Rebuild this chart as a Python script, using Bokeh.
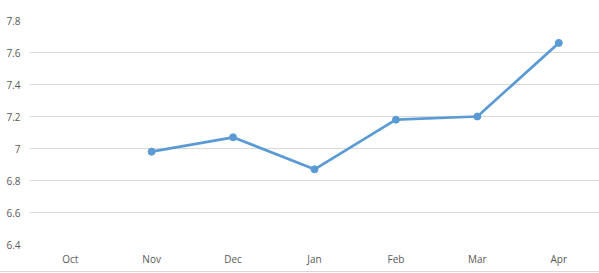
from bokeh.plotting import figure
from bokeh.models import FixedTicker
from bokeh.embed import file_html
from bokeh.resources import INLINE

months = ["Oct", "Nov", "Dec", "Jan", "Feb", "Mar", "Apr"]
values = [float("nan"), 6.98, 7.07, 6.87, 7.18, 7.20, 7.66]
y_ticks = [6.4, 6.6, 6.8, 7.0, 7.2, 7.4, 7.6, 7.8]
y_labels = {6.4: "6.4", 6.6: "6.6", 6.8: "6.8", 7.0: "7", 7.2: "7.2", 7.4: "7.4", 7.6: "7.6", 7.8: "7.8"}

p = figure(x_range=months, y_range=(6.4, 7.8), width=599, height=272,
           output_backend="svg", toolbar_location=None,
           min_border_left=29, min_border_right=0, min_border_top=20, min_border_bottom=28)
p.outline_line_color = None
p.background_fill_color = "white"
p.border_fill_color = "white"
p.styles = {"border-bottom": "1px solid #d9d9d9"}

p.line(months, values, line_color="#5B9BD5", line_width=2.75)
p.scatter(months, values, size=7, color="#5B9BD5")

p.xgrid.grid_line_color = None
p.ygrid.grid_line_color = "#d9d9d9"
p.ygrid.grid_line_width = 1

p.yaxis.ticker = FixedTicker(ticks=y_ticks)
p.yaxis.major_label_overrides = y_labels
for ax in (p.xaxis[0], p.yaxis[0]):
    ax.axis_line_color = None
    ax.major_tick_line_color = None
    ax.minor_tick_line_color = None
    ax.major_tick_out = 0
    ax.major_tick_in = 0
    ax.minor_tick_out = 0
    ax.minor_tick_in = 0
    ax.major_label_text_font = "Open Sans"
    ax.major_label_text_font_size = "10px"
    ax.major_label_text_color = "#595959"
p.yaxis.major_label_standoff = 9
p.xaxis.major_label_standoff = 7

open("out.html", "w").write(file_html(p, INLINE))
